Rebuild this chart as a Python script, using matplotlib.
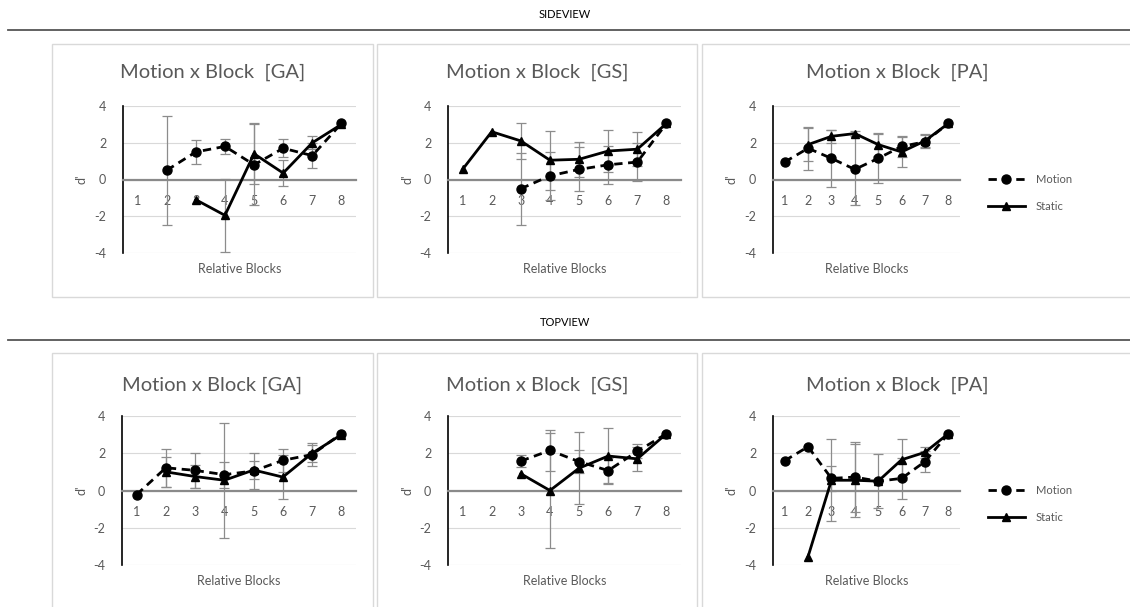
import numpy as np
import matplotlib
matplotlib.use("Agg")
import matplotlib.pyplot as plt
from matplotlib.patches import Rectangle
from matplotlib.lines import Line2D

plt.rcParams['font.family'] = ['Lato', 'DejaVu Sans']

nan = np.nan
blocks = [1, 2, 3, 4, 5, 6, 7, 8]
series_labels = ["Motion", "Static"]

# SIDEVIEW
side_ga_motion = [nan, 0.5, 1.5, 1.8, 0.8, 1.7, 1.3, 3.05]
side_ga_motion_err = [nan, 2.95, 0.65, 0.42, 2.2, 0.5, 0.7, 0]
side_ga_static = [nan, nan, -1.1, -1.95, 1.4, 0.35, 2.0, 3.0]
side_ga_static_err = [nan, nan, 0, 2.0, 1.65, 0.7, 0.35, 0]

side_gs_motion = [nan, nan, -0.5, 0.2, 0.55, 0.8, 0.95, 3.05]
side_gs_motion_err = [nan, nan, 1.95, 1.3, 1.2, 1.03, 1.05, 0]
side_gs_static = [0.55, 2.6, 2.1, 1.05, 1.1, 1.55, 1.65, 3.05]
side_gs_static_err = [0, 0, 1.0, 1.6, 0.95, 1.13, 0.93, 0]

side_pa_motion = [0.95, 1.7, 1.15, 0.55, 1.15, 1.8, 2.05, 3.05]
side_pa_motion_err = [0, 1.17, 1.54, 1.95, 1.32, 0.55, 0.35, 0]
side_pa_static = [nan, 1.9, 2.35, 2.5, 1.9, 1.5, 2.1, 3.05]
side_pa_static_err = [nan, 0.92, 0.36, 0.15, 0.63, 0.8, 0.35, 0]

# TOPVIEW
top_ga_motion = [-0.22, 1.22, 1.08, 0.85, 1.05, 1.62, 1.93, 3.05]
top_ga_motion_err = [0, 1.03, 0.93, 0.7, 0.95, 0.6, 0.6, 0]
top_ga_static = [nan, 1.0, 0.75, 0.55, 1.1, 0.72, 2.0, 3.0]
top_ga_static_err = [nan, 0.8, 0.6, 3.1, 0.5, 1.2, 0.45, 0]

top_gs_motion = [nan, nan, 1.58, 2.15, 1.55, 1.07, 2.1, 3.05]
top_gs_motion_err = [nan, nan, 0.3, 1.1, 0.6, 0.65, 0.38, 0]
top_gs_static = [nan, nan, 0.9, 0.0, 1.2, 1.85, 1.7, 3.05]
top_gs_static_err = [nan, nan, 0, 3.1, 1.95, 1.5, 0.65, 0]

top_pa_motion = [1.6, 2.35, 0.65, 0.72, 0.5, 0.65, 1.55, 3.05]
top_pa_motion_err = [0, 0, 0.65, 1.9, 0, 1.1, 0.55, 0]
top_pa_static = [nan, -3.55, 0.55, 0.55, 0.5, 1.65, 2.05, 3.05]
top_pa_static_err = [nan, 0, 2.2, 1.95, 1.45, 1.1, 0.3, 0]

titles_side = ["Motion x Block  [GA]", "Motion x Block  [GS]", "Motion x Block  [PA]"]
titles_top = ["Motion x Block [GA]", "Motion x Block  [GS]", "Motion x Block  [PA]"]
y_ticks = [-4, -2, 0, 2, 4]

W, H = 1130, 607
fig = plt.figure(figsize=(W / 100, H / 100), dpi=100)

def fx(x):
    return x / W

def fy(y):
    return 1 - y / H

GRAY_TXT = "#595959"

# header texts and lines
fig.text(fx(565), fy(14), "SIDEVIEW", ha="center", va="center", fontsize=8, color="black")
fig.add_artist(Line2D([fx(8), fx(1130)], [fy(30), fy(30)], color="#555555", lw=1.3))
fig.text(fx(565), fy(323), "TOPVIEW", ha="center", va="center", fontsize=8, color="black")
fig.add_artist(Line2D([fx(8), fx(1130)], [fy(339.5), fy(339.5)], color="#555555", lw=1.3))

# chart frames
frames = [(52, 44, 373, 297), (377, 44, 697, 297), (702, 44, 1131, 297),
          (52, 353, 373, 612), (377, 353, 697, 612), (702, 353, 1131, 612)]
for (x0, y0, x1, y1) in frames:
    fig.add_artist(Rectangle((fx(x0), fy(y1)), fx(x1 - x0), (y1 - y0) / H,
                             transform=fig.transFigure, fill=False,
                             edgecolor="#d9d9d9", lw=1.0))

panels = [
    ((123, 106, 356, 253), titles_side[0], 213, 72,
     side_ga_motion, side_ga_motion_err, side_ga_static, side_ga_static_err),
    ((448, 106, 681, 253), titles_side[1], 537, 72,
     side_gs_motion, side_gs_motion_err, side_gs_static, side_gs_static_err),
    ((773, 106, 960, 253), titles_side[2], 897, 72,
     side_pa_motion, side_pa_motion_err, side_pa_static, side_pa_static_err),
    ((122, 416, 356, 565), titles_top[0], 212, 385,
     top_ga_motion, top_ga_motion_err, top_ga_static, top_ga_static_err),
    ((448, 416, 681, 565), titles_top[1], 537, 385,
     top_gs_motion, top_gs_motion_err, top_gs_static, top_gs_static_err),
    ((773, 416, 960, 565), titles_top[2], 897, 385,
     top_pa_motion, top_pa_motion_err, top_pa_static, top_pa_static_err),
]

axes = []
for (rect, title, tx, ty, mv, me, sv, se) in panels:
    x0, y0, x1, y1 = rect
    ax = fig.add_axes([fx(x0), fy(y1), fx(x1 - x0), (y1 - y0) / H])
    axes.append(ax)
    ax.set_xlim(0.5, 8.5)
    ax.set_ylim(-4, 4)
    ax.set_yticks(y_ticks)
    ax.set_yticklabels([str(v) for v in y_ticks])
    ax.set_xticks(blocks)
    ax.set_xticklabels([str(b) for b in blocks])
    ax.grid(axis="y", color="#d9d9d9", lw=0.8, zorder=0)
    ax.set_axisbelow(True)
    for s in ["top", "right"]:
        ax.spines[s].set_visible(False)
    ax.spines["left"].set_color("black")
    ax.spines["left"].set_linewidth(1.2)
    ax.spines["bottom"].set_position(("data", 0))
    ax.spines["bottom"].set_color("#8a8a8a")
    ax.spines["bottom"].set_linewidth(1.6)
    ax.tick_params(axis="x", length=0, pad=11, labelsize=9, labelcolor=GRAY_TXT)
    ax.tick_params(axis="y", length=0, pad=12, labelsize=9, labelcolor=GRAY_TXT)
    ax.patch.set_alpha(0)

    # error bars
    x = np.array(blocks, dtype=float)
    for vals, errs in [(mv, me), (sv, se)]:
        v = np.array(vals, dtype=float)
        e = np.array(errs, dtype=float)
        m = ~np.isnan(v) & ~np.isnan(e) & (e > 0)
        ax.errorbar(x[m], v[m], yerr=e[m], fmt="none", ecolor="#8c8c8c",
                    elinewidth=0.9, capsize=3.5, capthick=0.9, zorder=2)

    ax.plot(x, mv, color="black", lw=2.0, linestyle=(0, (3, 2)), marker="o",
            markersize=6.5, label=series_labels[0], zorder=4)
    ax.plot(x, sv, color="black", lw=2.0, linestyle="-", marker="^",
            markersize=6, label=series_labels[1], zorder=3)

    fig.text(fx(tx), fy(ty), title, ha="center", va="center", fontsize=14.5, color=GRAY_TXT)
    axw = x1 - x0
    axh = y1 - y0
    ax.text(0.5, -16 / axh, "Relative Blocks", transform=ax.transAxes, ha="center",
            va="center", fontsize=9, color=GRAY_TXT)
    ax.text(-41 / axw, 0.5, "d'", transform=ax.transAxes, ha="center",
            va="center", rotation=90, fontsize=9, color=GRAY_TXT)

for ax, ycen in [(axes[2], 193), (axes[5], 504)]:
    h, l = ax.get_legend_handles_labels()
    fig.legend(h, l, loc="center left", bbox_to_anchor=(fx(978), fy(ycen)),
               frameon=False, fontsize=8, handlelength=3.3, handletextpad=1.0,
               labelspacing=1.5, labelcolor=GRAY_TXT)

fig.savefig("out.png", dpi=100)
